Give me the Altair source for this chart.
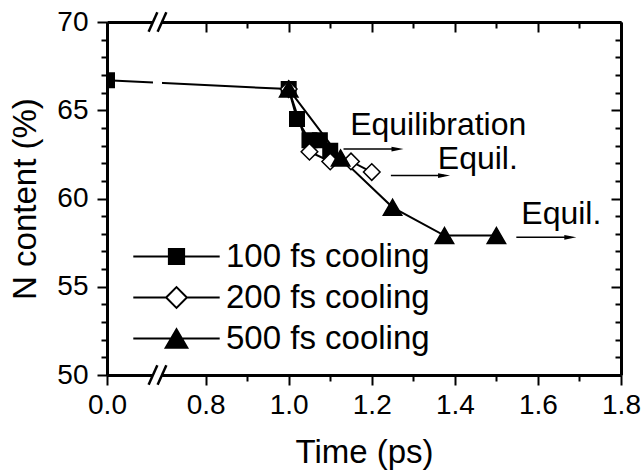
import altair as alt
import pandas as pd

FONT = "Liberation Sans"

# ---- data -------------------------------------------------------------
series_names = ["100 fs cooling", "200 fs cooling", "500 fs cooling"]

t_100 = [0.0, 1.0, 1.02, 1.05, 1.075, 1.1]
n_100 = [66.7, 66.2, 64.5, 63.3, 63.3, 62.7]

t_200 = [1.0, 1.05, 1.1, 1.15, 1.2]
n_200 = [66.2, 62.65, 62.1, 62.1, 61.5]

t_500 = [1.0, 1.125, 1.25, 1.375, 1.5]
n_500 = [66.2, 62.3, 59.5, 57.9, 57.9]

ann_text = ["Equilibration", "Equil.", "Equil."]
ann_x = [1.148, 1.359, 1.56]
ann_y = [63.62, 61.66, 58.57]
arrow_x0 = [1.132, 1.246, 1.548]
arrow_x1 = [1.262, 1.374, 1.678]
arrow_y = [62.8, 61.3, 57.8]

# ---- broken time axis: t=0 is drawn just left of the break ---------------
X_SHIFT = 0.5626
BREAK_LO, BREAK_HI = 0.6733, 0.695
X_MAX = 1.8
Y_MIN, Y_MAX = 50, 70

W, H = 514, 353

rows = []
for name, ts, ns in zip(series_names, [t_100, t_200, t_500], [n_100, n_200, n_500]):
    for i, (t, n) in enumerate(zip(ts, ns)):
        rows.append({"series": name, "t": t, "n": n, "i": i})
df = pd.DataFrame(rows)

ann_df = pd.DataFrame({"label": ann_text, "x": ann_x, "y": ann_y})
arrow_df = pd.DataFrame({"x0": arrow_x0, "x1": arrow_x1, "y": arrow_y})

brk_rect = pd.DataFrame({"x0": [BREAK_LO], "x1": [BREAK_HI], "y0": [Y_MIN - 0.3], "y1": [Y_MAX + 0.3]})
slash_rows = []
for yc in (Y_MIN, Y_MAX):
    for xc in (BREAK_LO, BREAK_HI):
        slash_rows.append({"xa": xc - 0.0105, "xb": xc + 0.0105, "ya": yc - 0.55, "yb": yc + 0.55})
slash_df = pd.DataFrame(slash_rows)

xd_expr = f"datum.t < 0.5 ? datum.t + {X_SHIFT} : datum.t"

x_scale = alt.Scale(domain=[X_SHIFT, X_MAX], nice=False, zero=False)
y_scale = alt.Scale(domain=[Y_MIN, Y_MAX], nice=False, zero=False)

x_ticks = [X_SHIFT] + [round(0.8 + 0.1 * k, 1) for k in range(11)]
y_ticks = list(range(Y_MIN, Y_MAX + 1))

x_minor = "round(datum.value * 10) % 2 == 1"
y_minor = "datum.value % 5 != 0"

common_axis = dict(
    domainColor="black", domainWidth=3, tickColor="black", tickWidth=2,
    grid=False, labelFont=FONT, labelColor="black", labelFontSize=28,
    titleFont=FONT, titleColor="black", titleFontSize=33, titleFontWeight="normal",
    labelFlush=False, labelOverlap=False, labelBound=False,
)

x_axis_main = alt.Axis(
    values=x_ticks, orient="bottom",
    tickSize={"condition": {"test": x_minor, "value": 6}, "value": 10},
    labelExpr=f"datum.value < 0.7 ? '0.0' : ({x_minor} ? '' : format(datum.value, '.1f'))",
    labelPadding=6, title="Time (ps)", titlePadding=17, **common_axis,
)
y_axis_main = alt.Axis(
    values=y_ticks, orient="left",
    tickSize={"condition": {"test": y_minor, "value": 6}, "value": 10},
    labelExpr=f"{y_minor} ? '' : datum.label",
    labelPadding=9, title="N content (%)", titlePadding=14, **common_axis,
)
# mirrored frame axes with inward ticks
x_axis_top = alt.Axis(
    values=x_ticks, orient="bottom", offset=-H, labels=False, title=None,
    tickSize={"condition": {"test": x_minor, "value": 6}, "value": 10},
    **common_axis,
)
y_axis_right = alt.Axis(
    values=y_ticks, orient="left", offset=-W, labels=False, title=None,
    tickSize={"condition": {"test": y_minor, "value": 6}, "value": 10},
    **common_axis,
)

base = alt.Chart(df).transform_calculate(xd=xd_expr)

lines = base.mark_line(color="black", strokeWidth=2).encode(
    x=alt.X("xd:Q", scale=x_scale, axis=x_axis_main),
    y=alt.Y("n:Q", scale=y_scale, axis=y_axis_main),
    detail="series:N",
    order="i:Q",
)

# markers are clipped to the plot frame (the t=0 square sits on the axis)
points = base.mark_point(filled=True, stroke="black", strokeWidth=1.5, opacity=1, clip=True).encode(
    x=alt.X("xd:Q", scale=x_scale, axis=None),
    y=alt.Y("n:Q", scale=y_scale, axis=None),
    shape=alt.Shape("series:N", scale=alt.Scale(domain=series_names, range=["square", "diamond", "triangle-up"]), legend=None),
    fill=alt.Fill("series:N", scale=alt.Scale(domain=series_names, range=["black", "white", "black"]), legend=None),
    size=alt.Size("series:N", scale=alt.Scale(domain=series_names, range=[210, 340, 420]), legend=None),
)

# legend symbols: a line with the marker in its middle
leg_paths = [
    "M-5.4,0H5.4M-0.95,-0.95H0.95V0.95H-0.95Z",
    "M-5.4,0H-1.3M1.3,0H5.4M-1.3,0L0,-1.3L1.3,0L0,1.3Z",
    "M-5.4,0H5.4M0,-1.15L1.35,1.15L-1.35,1.15Z",
]
legend = alt.Legend(
    orient="none", legendX=53, legendY=218, direction="vertical",
    title=None, padding=0, symbolOffset=0, labelOffset=33, rowPadding=7,
    labelFont=FONT, labelFontSize=33, labelColor="black", labelLimit=0,
    symbolSize=256, symbolStrokeWidth=2, symbolOpacity=1,
)
legend_layer = base.transform_filter("false").mark_point(filled=True, size=256, strokeWidth=2).encode(
    x=alt.X("xd:Q", scale=x_scale, axis=None),
    y=alt.Y("n:Q", scale=y_scale, axis=None),
    shape=alt.Shape("series:N", scale=alt.Scale(domain=series_names, range=leg_paths), legend=legend),
    fill=alt.Fill("series:N", scale=alt.Scale(domain=series_names, range=["black", "white", "black"]), legend=legend),
    stroke=alt.Stroke("series:N", scale=alt.Scale(domain=series_names, range=["black", "black", "black"]), legend=legend),
)

# axis break: white gap plus double slashes on top and bottom frame
gap = alt.Chart(brk_rect).mark_rect(fill="white").encode(
    x=alt.X("x0:Q", scale=x_scale, axis=x_axis_top),
    x2="x1:Q",
    y=alt.Y("y0:Q", scale=y_scale, axis=y_axis_right),
    y2="y1:Q",
)
slashes = alt.Chart(slash_df).mark_rule(color="black", strokeWidth=2.5).encode(
    x=alt.X("xa:Q", scale=x_scale, axis=None),
    x2="xb:Q",
    y=alt.Y("ya:Q", scale=y_scale, axis=None),
    y2="yb:Q",
)

arrows = alt.Chart(arrow_df).mark_rule(color="black", strokeWidth=1.5).encode(
    x=alt.X("x0:Q", scale=x_scale, axis=None),
    x2="x1:Q",
    y=alt.Y("y:Q", scale=y_scale, axis=None),
)
heads = alt.Chart(arrow_df).mark_point(
    shape="M1,0L-1,-0.4L-1,0.4Z", filled=True, color="black", size=144, opacity=1
).encode(
    x=alt.X("x1:Q", scale=x_scale, axis=None),
    y=alt.Y("y:Q", scale=y_scale, axis=None),
)
labels = alt.Chart(ann_df).mark_text(
    align="left", baseline="alphabetic", font=FONT, fontSize=32, color="black"
).encode(
    x=alt.X("x:Q", scale=x_scale, axis=None),
    y=alt.Y("y:Q", scale=y_scale, axis=None),
    text="label:N",
)

chart = (
    alt.layer(lines, gap, slashes, arrows, heads, labels, points, legend_layer)
    .resolve_axis(x="independent", y="independent")
    .resolve_scale(shape="independent", fill="independent", size="independent", stroke="independent")
    .properties(
        width=W, height=H,
        autosize=alt.AutoSizeParams(type="none"),
        padding={"left": 107, "top": 22, "right": 22, "bottom": 95},
        background="white",
    )
    .configure_view(stroke=None)
)

chart.save("out.html", embed_options={"renderer": "svg", "actions": False})
